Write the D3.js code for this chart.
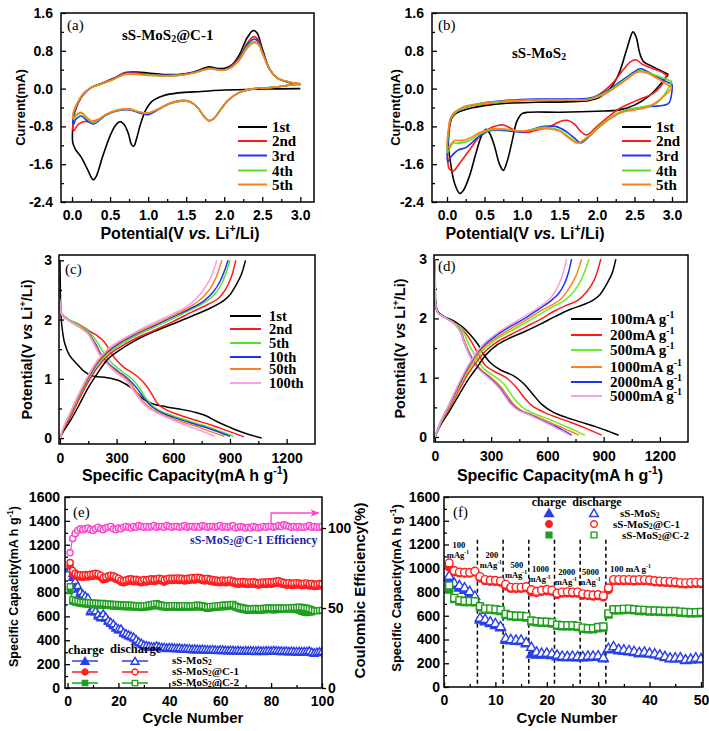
<!DOCTYPE html>
<html><head><meta charset="utf-8">
<script src="https://cdn.jsdelivr.net/npm/d3@7"></script>
<style>body{margin:0;background:#fff}text{white-space:pre}</style>
</head><body>
<svg id="c" width="709" height="731"></svg>
<script>
// ---------------- DATA ----------------
// (a) CV of sS-MoS2@C-1 : [potential V, current mA]
const cvA1=[[3.0,0.0],[2.5,-0.01],[2.0,-0.03],[1.7,-0.06],[1.4,-0.09],[1.2,-0.15],[1.05,-0.27],[0.97,-0.45],[0.9,-0.75],[0.85,-1.05],[0.81,-1.22],[0.78,-1.18],[0.74,-0.95],[0.68,-0.75],[0.63,-0.7],[0.57,-0.78],[0.5,-1.0],[0.4,-1.45],[0.32,-1.85],[0.28,-1.93],[0.2,-1.7],[0.12,-1.45],[0.05,-1.3],[0.01,-1.15],[0.01,-0.8],[0.03,-0.5],[0.08,-0.3],[0.15,-0.12],[0.25,0.02],[0.4,0.12],[0.55,0.22],[0.7,0.34],[0.85,0.35],[1.0,0.33],[1.2,0.3],[1.4,0.3],[1.6,0.35],[1.8,0.46],[1.9,0.43],[2.0,0.43],[2.1,0.5],[2.2,0.72],[2.3,1.07],[2.38,1.23],[2.43,1.18],[2.5,0.85],[2.6,0.4],[2.7,0.22],[2.85,0.13],[3.0,0.08]];
const cvA2=[[3.0,0.1],[2.8,0.06],[2.6,0.02],[2.4,0.0],[2.2,-0.08],[2.05,-0.25],[1.95,-0.45],[1.86,-0.64],[1.8,-0.68],[1.74,-0.6],[1.65,-0.4],[1.55,-0.28],[1.45,-0.25],[1.3,-0.3],[1.15,-0.42],[1.0,-0.53],[0.9,-0.51],[0.75,-0.44],[0.6,-0.46],[0.45,-0.55],[0.35,-0.65],[0.25,-0.7],[0.15,-0.7],[0.08,-0.76],[0.02,-0.9],[0.01,-0.85],[0.03,-0.55],[0.08,-0.3],[0.15,-0.12],[0.25,0.02],[0.4,0.12],[0.55,0.22],[0.7,0.33],[0.85,0.33],[1.0,0.3],[1.2,0.28],[1.4,0.29],[1.6,0.34],[1.8,0.44],[1.9,0.41],[2.0,0.4],[2.1,0.48],[2.2,0.66],[2.3,0.96],[2.39,1.1],[2.45,1.03],[2.5,0.8],[2.6,0.4],[2.7,0.22],[2.85,0.14],[3.0,0.1]];
const cvA3=[[3.0,0.1],[2.8,0.06],[2.6,0.02],[2.4,0.0],[2.2,-0.08],[2.05,-0.25],[1.95,-0.45],[1.86,-0.64],[1.8,-0.68],[1.74,-0.6],[1.65,-0.4],[1.55,-0.28],[1.45,-0.26],[1.3,-0.31],[1.15,-0.43],[1.0,-0.55],[0.9,-0.52],[0.75,-0.45],[0.6,-0.47],[0.45,-0.56],[0.35,-0.68],[0.28,-0.75],[0.2,-0.68],[0.12,-0.58],[0.05,-0.65],[0.02,-0.75],[0.01,-0.7],[0.03,-0.5],[0.08,-0.3],[0.15,-0.12],[0.25,0.02],[0.4,0.11],[0.55,0.21],[0.7,0.32],[0.85,0.32],[1.0,0.3],[1.2,0.28],[1.4,0.29],[1.6,0.34],[1.8,0.43],[1.9,0.41],[2.0,0.4],[2.1,0.47],[2.2,0.64],[2.3,0.92],[2.39,1.05],[2.45,0.99],[2.5,0.78],[2.6,0.4],[2.7,0.22],[2.85,0.14],[3.0,0.1]];
const cvA4=[[3.0,0.1],[2.8,0.06],[2.6,0.02],[2.4,0.0],[2.2,-0.08],[2.05,-0.25],[1.95,-0.45],[1.86,-0.64],[1.8,-0.68],[1.74,-0.6],[1.65,-0.4],[1.55,-0.28],[1.45,-0.26],[1.3,-0.31],[1.15,-0.42],[1.0,-0.52],[0.9,-0.5],[0.75,-0.44],[0.6,-0.46],[0.45,-0.55],[0.35,-0.66],[0.28,-0.72],[0.2,-0.64],[0.12,-0.52],[0.05,-0.58],[0.02,-0.65],[0.01,-0.62],[0.03,-0.45],[0.08,-0.28],[0.15,-0.11],[0.25,0.02],[0.4,0.11],[0.55,0.2],[0.7,0.31],[0.85,0.31],[1.0,0.29],[1.2,0.27],[1.4,0.28],[1.6,0.33],[1.8,0.42],[1.9,0.4],[2.0,0.39],[2.1,0.46],[2.2,0.62],[2.3,0.88],[2.39,1.0],[2.45,0.95],[2.5,0.76],[2.6,0.4],[2.7,0.22],[2.85,0.14],[3.0,0.1]];
const cvA5=[[3.0,0.1],[2.8,0.06],[2.6,0.02],[2.4,0.0],[2.2,-0.08],[2.05,-0.25],[1.95,-0.45],[1.86,-0.64],[1.8,-0.68],[1.74,-0.6],[1.65,-0.4],[1.55,-0.28],[1.45,-0.26],[1.3,-0.31],[1.15,-0.42],[1.0,-0.51],[0.9,-0.5],[0.75,-0.43],[0.6,-0.45],[0.45,-0.54],[0.35,-0.65],[0.28,-0.7],[0.2,-0.62],[0.12,-0.5],[0.05,-0.56],[0.02,-0.62],[0.01,-0.6],[0.03,-0.44],[0.08,-0.27],[0.15,-0.1],[0.25,0.02],[0.4,0.1],[0.55,0.2],[0.7,0.3],[0.85,0.3],[1.0,0.28],[1.2,0.27],[1.4,0.28],[1.6,0.33],[1.8,0.42],[1.9,0.4],[2.0,0.39],[2.1,0.45],[2.2,0.6],[2.3,0.85],[2.39,0.97],[2.45,0.93],[2.5,0.75],[2.6,0.4],[2.7,0.22],[2.85,0.14],[3.0,0.1]];
// (b) CV of sS-MoS2
const cvB1=[[2.95,0.3],[2.85,0.1],[2.7,-0.15],[2.5,-0.35],[2.3,-0.45],[2.0,-0.48],[1.5,-0.5],[1.1,-0.5],[1.0,-0.53],[0.93,-0.7],[0.87,-1.1],[0.8,-1.55],[0.75,-1.73],[0.7,-1.6],[0.63,-1.2],[0.57,-0.95],[0.52,-0.86],[0.46,-1.0],[0.38,-1.4],[0.3,-1.85],[0.22,-2.15],[0.17,-2.22],[0.1,-2.0],[0.05,-1.6],[0.02,-1.2],[0.03,-0.8],[0.08,-0.58],[0.15,-0.5],[0.3,-0.42],[0.5,-0.36],[0.8,-0.31],[1.2,-0.29],[1.6,-0.28],[1.9,-0.25],[2.05,-0.17],[2.2,0.05],[2.3,0.35],[2.4,0.85],[2.48,1.2],[2.52,1.1],[2.57,0.75],[2.62,0.57],[2.75,0.46],[2.9,0.34],[2.95,0.3]];
const cvB2=[[2.93,0.28],[2.85,0.05],[2.75,-0.1],[2.5,-0.27],[2.3,-0.42],[2.15,-0.6],[2.0,-0.8],[1.9,-0.95],[1.85,-0.98],[1.78,-0.9],[1.7,-0.75],[1.6,-0.67],[1.5,-0.7],[1.35,-0.82],[1.2,-0.88],[1.05,-0.93],[0.9,-0.88],[0.75,-0.77],[0.6,-0.82],[0.45,-0.98],[0.3,-1.3],[0.15,-1.62],[0.08,-1.75],[0.03,-1.7],[0.01,-1.5],[0.03,-0.9],[0.08,-0.55],[0.2,-0.42],[0.5,-0.33],[0.8,-0.27],[1.2,-0.24],[1.6,-0.24],[1.9,-0.22],[2.05,-0.1],[2.2,0.1],[2.35,0.4],[2.45,0.57],[2.52,0.61],[2.6,0.52],[2.7,0.45],[2.85,0.36],[2.93,0.28]];
const cvB3=[[3.0,0.1],[3.0,-0.05],[2.95,-0.32],[2.7,-0.38],[2.4,-0.45],[2.2,-0.6],[2.0,-0.85],[1.85,-1.08],[1.78,-1.15],[1.7,-1.05],[1.6,-0.92],[1.45,-0.8],[1.3,-0.8],[1.1,-0.88],[1.0,-0.92],[0.85,-0.9],[0.7,-0.88],[0.55,-0.9],[0.4,-1.05],[0.25,-1.25],[0.15,-1.3],[0.05,-1.45],[0.01,-1.55],[0.02,-1.0],[0.06,-0.6],[0.15,-0.45],[0.4,-0.33],[0.8,-0.25],[1.2,-0.22],[1.6,-0.22],[1.9,-0.2],[2.1,-0.08],[2.25,0.08],[2.4,0.25],[2.5,0.36],[2.58,0.42],[2.65,0.38],[2.8,0.25],[2.95,0.13],[3.0,0.1]];
const cvB4=[[3.0,0.15],[2.95,0.0],[2.8,-0.3],[2.5,-0.42],[2.3,-0.5],[2.1,-0.7],[1.9,-0.98],[1.75,-1.15],[1.65,-1.05],[1.5,-0.88],[1.3,-0.82],[1.1,-0.88],[1.0,-0.9],[0.8,-0.87],[0.6,-0.87],[0.45,-0.95],[0.3,-1.1],[0.15,-1.16],[0.08,-1.15],[0.01,-1.35],[0.02,-0.9],[0.06,-0.6],[0.2,-0.42],[0.5,-0.32],[0.8,-0.27],[1.2,-0.24],[1.6,-0.24],[1.9,-0.22],[2.1,-0.1],[2.25,0.05],[2.4,0.22],[2.5,0.33],[2.57,0.38],[2.65,0.35],[2.8,0.27],[3.0,0.15]];
const cvB5=[[3.0,0.02],[2.9,-0.15],[2.7,-0.38],[2.5,-0.45],[2.3,-0.52],[2.1,-0.72],[1.9,-1.0],[1.73,-1.15],[1.63,-1.05],[1.5,-0.9],[1.3,-0.85],[1.1,-0.88],[1.0,-0.9],[0.8,-0.86],[0.6,-0.85],[0.45,-0.92],[0.3,-1.05],[0.2,-1.1],[0.1,-1.1],[0.01,-1.25],[0.02,-0.85],[0.06,-0.58],[0.2,-0.4],[0.5,-0.3],[0.8,-0.26],[1.2,-0.24],[1.6,-0.24],[1.9,-0.23],[2.1,-0.12],[2.25,0.03],[2.4,0.2],[2.5,0.32],[2.58,0.36],[2.65,0.34],[2.8,0.22],[3.0,0.02]];
const cvLegend=["1st","2nd","3rd","4th","5th"];
// (c) charge/discharge of sS-MoS2@C-1 : [capacity mAh/g, potential V]
const dcC1=[[0,3.0],[2,2.6],[4,2.2],[10,1.9],[25,1.6],[50,1.4],[90,1.25],[130,1.12],[170,1.05],[250,1.02],[320,0.96],[390,0.82],[440,0.66],[490,0.58],[560,0.53],[650,0.48],[720,0.43],[770,0.38],[830,0.28],[900,0.18],[980,0.08],[1068,0.0]];
const dcC2=[[0,2.3],[3,2.15],[10,2.08],[40,2.0],[80,1.95],[120,1.88],[160,1.8],[200,1.72],[235,1.62],[265,1.47],[295,1.33],[340,1.19],[390,1.09],[430,0.98],[460,0.87],[490,0.72],[520,0.57],[560,0.48],[640,0.38],[720,0.3],[800,0.22],[880,0.13],[975,0.02]];
const dcC5=[[0,2.35],[3,2.2],[10,2.1],[50,2.0],[100,1.91],[150,1.8],[180,1.7],[210,1.55],[240,1.4],[280,1.25],[330,1.12],[380,1.0],[420,0.85],[460,0.65],[500,0.52],[560,0.42],[640,0.33],[720,0.25],[800,0.17],[917,0.03]];
const dcC10=[[0,2.3],[3,2.18],[10,2.08],[50,1.98],[100,1.88],[150,1.77],[190,1.58],[220,1.4],[260,1.25],[310,1.12],[360,1.0],[410,0.83],[450,0.65],[490,0.52],[550,0.41],[630,0.32],[720,0.23],[800,0.15],[900,0.03]];
const dcC50=[[0,2.3],[3,2.18],[10,2.08],[50,1.98],[100,1.88],[150,1.76],[185,1.58],[215,1.4],[255,1.25],[300,1.12],[350,1.0],[400,0.8],[440,0.62],[480,0.5],[540,0.4],[620,0.3],[700,0.22],[780,0.13],[870,0.03]];
const dcC100=[[0,2.3],[3,2.18],[10,2.08],[50,1.98],[100,1.88],[150,1.75],[180,1.58],[210,1.4],[250,1.25],[290,1.12],[340,1.0],[390,0.8],[430,0.62],[470,0.5],[530,0.4],[600,0.3],[680,0.2],[750,0.12],[820,0.03]];
const chC1=[[0,0.0],[20,0.12],[60,0.32],[100,0.55],[150,0.85],[200,1.1],[250,1.32],[300,1.45],[400,1.65],[500,1.8],[600,1.93],[700,2.06],[800,2.2],[870,2.33],[900,2.42],[930,2.57],[960,2.76],[982,3.0]];
const chC2=[[0,0.0],[20,0.15],[60,0.38],[100,0.65],[150,0.95],[200,1.2],[250,1.38],[300,1.5],[400,1.68],[500,1.82],[600,1.97],[700,2.13],[780,2.25],[840,2.36],[875,2.5],[905,2.7],[931,3.0]];
const chC5=[[0,0.0],[20,0.17],[60,0.42],[100,0.7],[150,1.0],[200,1.25],[250,1.42],[300,1.54],[400,1.72],[500,1.87],[600,2.02],[700,2.18],[770,2.3],[820,2.43],[860,2.63],[900,3.0]];
const chC10=[[0,0.0],[20,0.18],[60,0.45],[100,0.72],[150,1.02],[200,1.28],[250,1.45],[300,1.57],[400,1.75],[500,1.9],[600,2.05],[700,2.2],[760,2.31],[810,2.46],[850,2.66],[890,3.0]];
const chC50=[[0,0.0],[20,0.18],[60,0.46],[100,0.73],[150,1.04],[200,1.3],[250,1.47],[300,1.59],[400,1.77],[500,1.92],[600,2.07],[680,2.2],[740,2.33],[790,2.5],[825,2.7],[857,3.0]];
const chC100=[[0,0.0],[20,0.19],[60,0.47],[100,0.75],[150,1.06],[200,1.32],[250,1.49],[300,1.61],[400,1.79],[500,1.95],[600,2.1],[670,2.22],[720,2.35],[770,2.55],[800,2.72],[830,3.0]];
const cLegend=["1st","2nd","5th","10th","50th","100th"];
// (d) rate charge/discharge
const dcD100=[[0,3.0],[2,2.6],[4,2.3],[15,2.12],[50,2.03],[100,1.96],[150,1.85],[190,1.72],[230,1.56],[265,1.37],[300,1.24],[350,1.13],[420,1.03],[470,0.91],[520,0.73],[570,0.55],[630,0.42],[700,0.33],[780,0.25],[860,0.17],[930,0.09],[980,0.03]];
const dcD200=[[0,2.3],[4,2.2],[15,2.1],[50,2.02],[100,1.93],[150,1.8],[180,1.68],[210,1.52],[240,1.35],[270,1.2],[320,1.1],[380,1.0],[430,0.85],[480,0.65],[520,0.52],[580,0.42],[650,0.33],[730,0.24],[810,0.14],[889,0.03]];
const dcD500=[[0,2.3],[4,2.2],[15,2.1],[50,2.02],[100,1.93],[150,1.78],[175,1.6],[200,1.45],[230,1.3],[260,1.15],[310,1.04],[360,0.92],[400,0.75],[440,0.58],[480,0.47],[540,0.38],[610,0.3],[680,0.2],[740,0.12],[800,0.03]];
const dcD1000=[[0,2.3],[4,2.2],[15,2.1],[50,2.02],[100,1.93],[140,1.78],[160,1.6],[185,1.42],[215,1.25],[250,1.12],[300,1.0],[350,0.85],[390,0.68],[420,0.55],[460,0.45],[520,0.37],[590,0.28],[660,0.18],[720,0.1],[768,0.03]];
const dcD2000=[[0,2.3],[4,2.2],[15,2.1],[50,2.02],[100,1.92],[135,1.78],[155,1.6],[180,1.42],[210,1.25],[245,1.12],[290,1.0],[340,0.85],[380,0.68],[410,0.55],[450,0.45],[510,0.37],[570,0.28],[640,0.18],[690,0.1],[729,0.03]];
const dcD5000=[[0,3.0],[2,2.6],[4,2.25],[15,2.1],[50,2.02],[100,1.92],[135,1.78],[155,1.6],[178,1.42],[205,1.25],[240,1.12],[285,1.0],[335,0.85],[375,0.68],[405,0.55],[445,0.45],[505,0.37],[565,0.28],[630,0.18],[680,0.1],[720,0.03]];
const chD100=[[0,0.0],[30,0.2],[80,0.45],[130,0.72],[180,0.98],[230,1.2],[270,1.38],[330,1.55],[400,1.67],[480,1.78],[560,1.9],[640,2.03],[720,2.15],[790,2.23],[840,2.3],[880,2.4],[920,2.6],[945,2.76],[965,3.0]];
const chD200=[[0,0.0],[30,0.22],[80,0.5],[130,0.8],[180,1.08],[230,1.3],[270,1.45],[330,1.6],[400,1.72],[480,1.85],[560,1.98],[640,2.13],[700,2.22],[760,2.3],[810,2.45],[850,2.65],[885,3.0]];
const chD500=[[0,0.0],[30,0.23],[80,0.53],[130,0.84],[180,1.13],[230,1.36],[270,1.5],[330,1.65],[400,1.78],[480,1.92],[560,2.07],[630,2.2],[690,2.3],[740,2.45],[780,2.65],[822,3.0]];
const chD1000=[[0,0.0],[30,0.24],[80,0.55],[130,0.86],[180,1.16],[230,1.4],[270,1.54],[330,1.68],[400,1.82],[480,1.96],[560,2.12],[620,2.22],[670,2.32],[710,2.48],[750,2.7],[782,3.0]];
const chD2000=[[0,0.0],[30,0.25],[80,0.57],[130,0.9],[180,1.2],[230,1.44],[270,1.57],[330,1.72],[400,1.86],[480,2.0],[560,2.17],[620,2.3],[660,2.42],[690,2.58],[710,2.75],[729,3.0]];
const chD5000=[[0,0.0],[30,0.25],[80,0.58],[130,0.92],[180,1.22],[230,1.46],[270,1.6],[330,1.75],[400,1.89],[480,2.04],[560,2.2],[610,2.32],[640,2.45],[665,2.6],[685,2.78],[702,3.0]];
const dLegend=["100","200","500","1000","2000","5000"];
// (e) cycling at 100 mA/g, cycles 1..100
const eMoS2Dis=[1000,960,900,860,810,790,775,760,650,665,650,620,600,625,600,570,555,540,515,500,500,470,460,450,440,430,410,390,380,365,360,355,350,350,358,350,345,345,340,345,342,340,338,340,335,336,335,333,330,332,330,328,330,327,326,325,327,324,322,325,323,322,320,322,320,318,320,318,316,318,317,318,316,315,318,316,315,317,318,316,320,318,316,315,314,316,312,314,312,310,312,310,311,312,315,305,300,305,308,310];
const eMoS2Ch=[1010,930,870,830,790,775,760,740,640,650,640,605,590,610,585,560,545,525,505,490,490,460,450,440,430,420,400,380,370,355,350,345,342,342,348,342,338,338,333,337,335,333,330,333,328,329,328,326,323,325,323,321,323,320,319,318,320,317,315,318,316,315,313,315,313,311,313,311,309,311,310,311,309,308,311,309,308,310,311,309,313,311,309,308,307,309,305,307,305,303,305,303,304,305,308,298,293,298,301,303];
const eC1Dis=[1050,985,960,950,948,945,950,948,952,955,960,955,945,925,930,940,945,940,930,920,905,900,905,912,915,908,910,905,900,908,905,910,915,910,915,920,915,905,915,920,918,920,922,918,920,915,918,920,925,922,928,925,918,915,920,912,908,905,902,900,905,900,903,905,898,892,888,890,892,888,885,888,890,885,880,885,888,885,890,888,892,895,898,890,885,880,882,878,880,882,880,875,878,880,872,875,868,870,875,872];
const eC1Ch=[1020,960,940,932,930,928,932,930,934,937,942,937,927,907,912,922,927,922,912,902,887,882,887,894,897,890,892,887,882,890,887,892,897,892,897,902,897,887,897,902,900,902,904,900,902,897,900,902,907,904,910,907,900,897,902,894,890,887,884,882,887,882,885,887,880,874,870,872,874,870,867,870,872,867,862,867,870,867,872,870,874,877,880,872,867,862,864,860,862,864,862,857,860,862,854,857,850,852,857,854];
const eC2Dis=[850,740,732,728,722,720,718,716,715,712,712,710,708,710,706,705,704,700,702,700,698,696,695,694,695,692,690,688,686,690,692,695,700,705,708,700,695,692,690,688,690,692,690,688,690,692,690,688,690,692,695,693,690,686,680,684,686,688,690,692,695,696,698,700,702,690,682,676,672,668,664,665,666,668,664,665,668,670,672,670,668,670,672,670,668,670,672,675,676,675,678,676,672,670,665,655,648,645,650,652];
const eC2Ch=[815,725,717,713,707,705,703,701,700,697,697,695,693,695,691,690,689,685,687,685,683,681,680,679,680,677,675,673,671,675,677,680,685,690,693,685,680,677,675,673,675,677,675,673,675,677,675,673,675,677,680,678,675,671,665,669,671,673,675,677,680,681,683,685,687,675,667,661,657,653,649,650,651,653,649,650,653,655,657,655,653,655,657,660,661,660,663,661,657,655,650,640,633,630,635,637];
const eEff=[84.5,93.5,96.5,98.5,99.5,99,99.5,100,99,98.5,99.5,100.5,99.5,99,100,100.5,101,99.5,99,100,99.5,100.5,101,100.5,100,101,100.5,101.5,101,100.5,101,100.5,101,101.5,100.5,101,101,100.5,101.5,101,100.5,101,101,100.5,101,101.5,100.5,101,101,100.5,101,100.5,101.5,101,100.5,101,101,100.5,101,101.5,100.5,101,100.5,101,101.5,100,100.5,101,100.5,100,100.5,100,101,100.5,100,100.5,101,100.5,101,101,100.5,101,101.5,101,102,101.5,101,100.5,101,100.5,101,100.5,100.5,101,101.5,100.5,101,100.5,100.5,101];
// (f) rate capability, cycles 1..50
const fMoS2Dis=[940,880,860,840,810,770,585,575,555,540,515,415,405,400,400,380,340,300,290,292,285,275,265,262,265,262,262,266,266,268,252,330,345,322,318,312,305,295,300,292,285,275,262,250,250,252,235,240,250,242];
const fMoS2Ch=[925,860,840,820,790,745,570,555,540,525,505,400,395,392,390,370,280,275,275,278,272,260,255,255,255,252,252,255,256,258,245,320,330,312,308,302,296,287,290,284,277,268,255,243,243,245,230,233,243,236];
const fC1Dis=[1045,980,968,965,965,975,930,905,900,898,892,865,840,840,840,845,820,805,815,822,815,790,800,802,800,800,785,780,775,778,768,835,905,905,905,905,902,905,905,902,895,892,890,888,885,880,878,880,882,880];
const fC1Ch=[1010,970,960,958,958,968,918,895,890,888,882,850,830,830,830,835,800,795,805,810,805,778,790,792,790,790,772,770,765,768,758,820,895,895,895,895,892,895,895,892,885,882,880,878,875,870,868,870,872,870];
const fC2Dis=[855,750,730,725,725,722,680,660,660,655,650,615,605,600,600,595,560,555,550,550,545,525,520,520,520,515,500,495,495,505,510,620,655,655,658,660,655,650,650,645,645,642,640,640,640,635,632,630,630,632];
const fC2Ch=[820,740,720,715,715,712,670,650,650,645,640,605,595,590,590,585,550,545,540,540,535,515,510,510,510,505,490,485,485,495,500,610,645,645,648,650,645,640,640,635,635,632,630,630,630,625,622,620,620,622];
const fBreaks=[6.5,11.5,16.5,21.5,26.5,31.5];
const fRates=["100","200","500","1000","2000","5000"];
const seriesNames=["sS-MoS_{2}","sS-MoS_{2}@C-1","sS-MoS_{2}@C-2"];

// ---------------- DRAWING ----------------
const SANS="'Liberation Sans', Arial, sans-serif";
const SERIF="'Liberation Serif', 'Times New Roman', serif";
const svg=d3.select('#c');
svg.append('rect').attr('width',709).attr('height',731).attr('fill','#fff');

function rich(parent,str,fs){
  const t=parent.append('text').attr('font-size',fs);
  const re=/([_^*])\{([^}]*)\}/g;let last=0,cur=0,m;
  const add=(s,type)=>{ if(!s)return;
    const target=type==='sub'?fs*0.12:type==='sup'?-fs*0.42:0;
    const ts=t.append('tspan').text(s).attr('dy',(target-cur).toFixed(2));cur=target;
    if(type==='sub'||type==='sup')ts.attr('font-size',fs*0.66);
    if(type==='it')ts.attr('font-style','italic');};
  while((m=re.exec(str))){add(str.slice(last,m.index),'n');add(m[2],m[1]==='_'?'sub':m[1]==='^'?'sup':'it');last=re.lastIndex;}
  add(str.slice(last),'n');return t;
}

function panel(o){
  const g=svg.append('g');
  const x=d3.scaleLinear().domain(o.xd).range([o.l,o.r]);
  const y=d3.scaleLinear().domain(o.yd).range([o.b,o.t]);
  const cid='clip'+o.name;
  svg.append('clipPath').attr('id',cid).append('rect').attr('x',o.l).attr('y',o.t).attr('width',o.r-o.l).attr('height',o.b-o.t);
  const style=s=>{s.select('.domain').remove();s.attr('font-family',SANS).attr('font-size',14).attr('font-weight','bold');s.selectAll('line').attr('stroke','#000').attr('stroke-width',1.3);};
  g.append('g').attr('transform',`translate(0,${o.b})`).call(d3.axisBottom(x).tickValues(o.xminor).tickSizeInner(-3).tickSizeOuter(0).tickFormat('')).call(style);
  g.append('g').attr('transform',`translate(${o.l},0)`).call(d3.axisLeft(y).tickValues(o.yminor).tickSizeInner(-3).tickSizeOuter(0).tickFormat('')).call(style);
  g.append('g').attr('transform',`translate(0,${o.b})`).call(d3.axisBottom(x).tickValues(o.xt).tickSizeInner(-5).tickSizeOuter(0).tickPadding(o.xpad).tickFormat(o.xf)).call(style);
  g.append('g').attr('transform',`translate(${o.l},0)`).call(d3.axisLeft(y).tickValues(o.yt).tickSizeInner(-5).tickSizeOuter(0).tickPadding(o.ypad).tickFormat(o.yf)).call(style);
  const plot=svg.append('g').attr('clip-path',`url(#${cid})`);
  const front=svg.append('g');
  front.append('rect').attr('x',o.l).attr('y',o.t).attr('width',o.r-o.l).attr('height',o.b-o.t).attr('fill','none').attr('stroke','#000').attr('stroke-width',1.5);
  return {g:front,x,y,plot};
}
const f1=d=>d.toFixed(1), f0=d=>String(d);
const curve=d3.curveCatmullRom.alpha(0.5);

// ----- (a) and (b)
const cvCols=['#000000','#ff1a1a','#1c35f0','#5be02a','#ff7f1a'];
function cvPanel(o,data,title,tx,ty,lab,labx,legx){
  const P=panel(Object.assign({xd:o.xd,yd:[-2.4,1.6],xt:[0,0.5,1,1.5,2,2.5,3],xminor:[0.25,0.75,1.25,1.75,2.25,2.75],yt:[-2.4,-1.6,-0.8,0,0.8,1.6],yminor:[-2.0,-1.2,-0.4,0.4,1.2],xf:f1,yf:f1,xpad:8,ypad:8},o));
  const line=d3.line().x(d=>P.x(d[0])).y(d=>P.y(d[1])).curve(curve);
  data.forEach((d,i)=>P.plot.append('path').attr('d',line(d)).attr('fill','none').attr('stroke',cvCols[i]).attr('stroke-width',1.6));
  const ly=[127,141,155.5,170.5,184.5];
  cvLegend.forEach((s,i)=>{
    P.g.append('line').attr('x1',legx).attr('x2',legx+29).attr('y1',ly[i]).attr('y2',ly[i]).attr('stroke',cvCols[i]).attr('stroke-width',2);
    P.g.append('text').attr('x',legx+34).attr('y',ly[i]+5).attr('font-family',SERIF).attr('font-weight','bold').attr('font-size',15).text(s);
  });
  rich(P.g,title,15).attr('x',tx).attr('y',ty).attr('font-family',SERIF).attr('font-weight','bold');
  P.g.append('text').attr('x',labx).attr('y',30).attr('font-family',SERIF).attr('font-size',15).text(lab);
  rich(P.g,'Potential(V *{vs.} Li^{+}/Li)',16).attr('x',o.xtx).attr('y',239).attr('text-anchor','middle').attr('font-family',SANS).attr('font-weight','bold');
  rich(P.g,'Current(mA)',13).attr('transform',`translate(${o.ytx},${(o.t+o.b)/2}) rotate(-90)`).attr('text-anchor','middle').attr('font-family',SANS).attr('font-weight','bold');
}
cvPanel({name:'a',l:61,r:314,t:13,b:202,xd:[-0.145,3.18],ytx:25,xtx:180},[cvA1,cvA2,cvA3,cvA4,cvA5],'sS-MoS_{2}@C-1',122,40,'(a)',67,238);
cvPanel({name:'b',l:432,r:687,t:13,b:202,xd:[-0.2,3.2],ytx:400,xtx:525},[cvB1,cvB2,cvB3,cvB4,cvB5],'sS-MoS_{2}',512,58,'(b)',438,622);

// ----- (c) and (d)
function gcdPanel(o,dis,ch,cols,labels,legx,legy,lfs,lab,labx,laby){
  const P=panel(Object.assign({xd:[-5,1350],xt:[0,300,600,900,1200],xminor:[150,450,750,1050],yt:[0,1,2,3],yminor:[0.5,1.5,2.5],xf:f0,yf:f0,xpad:9,ypad:7},o));
  const line=d3.line().x(d=>P.x(d[0])).y(d=>P.y(d[1])).curve(curve);
  dis.forEach((d,i)=>P.plot.append('path').attr('d',line(d)).attr('fill','none').attr('stroke',cols[i]).attr('stroke-width',1.5));
  ch.forEach((d,i)=>P.plot.append('path').attr('d',line(d)).attr('fill','none').attr('stroke',cols[i]).attr('stroke-width',1.5));
  labels.forEach((s,i)=>{
    P.g.append('line').attr('x1',legx).attr('x2',legx+31).attr('y1',legy[i]).attr('y2',legy[i]).attr('stroke',cols[i]).attr('stroke-width',2);
    rich(P.g,s,lfs).attr('x',legx+39).attr('y',legy[i]+5).attr('font-family',SERIF).attr('font-weight','bold');
  });
  P.g.append('text').attr('x',labx).attr('y',laby).attr('font-family',SERIF).attr('font-size',15).text(lab);
  rich(P.g,'Specific Capacity(mA h g^{-1})',16).attr('x',o.xtx).attr('y',481).attr('text-anchor','middle').attr('font-family',SANS).attr('font-weight','bold');
  rich(P.g,'Potential(V *{vs} Li^{+}/Li)',14.5).attr('transform',`translate(${o.ytx},${(o.t+o.b)/2}) rotate(-90)`).attr('text-anchor','middle').attr('font-family',SANS).attr('font-weight','bold');
}
gcdPanel({name:'c',l:59,r:315,t:255,b:444,yd:[-0.1,3.09],ytx:32,xtx:185},[dcC1,dcC2,dcC5,dcC10,dcC50,dcC100],[chC1,chC2,chC5,chC10,chC50,chC100],
  ['#000000','#ff1a1a','#5be02a','#1c35f0','#ff8020','#f4a0e6'],cLegend,230,[316,329,343,357,369,383],14.5,'(c)',65,274);
gcdPanel({name:'d',l:434,r:688,t:255,b:442,yd:[-0.085,3.07],ytx:405,xtx:560},[dcD100,dcD200,dcD500,dcD1000,dcD2000,dcD5000],[chD100,chD200,chD500,chD1000,chD2000,chD5000],
  ['#000000','#ff1a1a','#66ee22','#ff8020','#1c35f0','#f4a0e6'],dLegend.map(r=>r+'mA g^{-1}'),571,[319,335,350,367,382,396],15,'(d)',438,271);

// ----- markers
const sym={tri:d3.symbolTriangle,circ:d3.symbolCircle,sq:d3.symbolSquare};
function marker(g,type,cx,cy,col,filled,size){
  g.append('path').attr('d',d3.symbol(sym[type],size)()).attr('transform',`translate(${cx},${cy+(type==='tri'?1:0)})`)
   .attr('fill',filled?col:'#fff').attr('stroke',col).attr('stroke-width',1.4);
}
const eCols=['#2a40e6','#ff1f1f','#1f9e1f'];
const eTypes=['tri','circ','sq'];

// ----- (e)
(function(){
  const o={name:'e',l:65,r:322,t:497,b:688,xd:[-1,100],yd:[0,1600],xt:[0,20,40,60,80,100],xminor:[10,30,50,70,90],yt:d3.range(0,1601,200),yminor:d3.range(100,1600,200),xf:f0,yf:f0,xpad:8,ypad:5};
  const P=panel(o);
  const yR=d3.scaleLinear().domain([0,119.4]).range([o.b,o.t]);
  const ra=P.g.append('g').attr('transform',`translate(${o.r},0)`).call(d3.axisRight(yR).tickValues([0,50,100]).tickSizeInner(4).tickSizeOuter(0).tickPadding(2).tickFormat(f0));
  ra.select('.domain').remove();ra.attr('font-family',SANS).attr('font-size',14).attr('font-weight','bold');ra.selectAll('line').attr('stroke','#000').attr('stroke-width',1.3);
  const cyc=eMoS2Dis.map((_,i)=>i+1);
  const sets=[[eMoS2Ch,eMoS2Dis],[eC2Ch,eC2Dis],[eC1Ch,eC1Dis]];
  const idx=[0,2,1];
  sets.forEach((pair,k)=>{
    const i=idx[k];
    pair.forEach((arr,j)=>{
      const ln=d3.line().x((d,n)=>P.x(cyc[n])).y(d=>P.y(d));
      P.plot.append('path').attr('d',ln(arr)).attr('fill','none').attr('stroke',eCols[i]).attr('stroke-width',1.2);
      arr.forEach((v,n)=>marker(P.plot,eTypes[i],P.x(cyc[n]),P.y(v),eCols[i],j===0,i===0?26:30));
    });
  });
  const effLine=d3.line().x((d,n)=>P.x(cyc[n])).y(d=>yR(d));
  P.plot.append('path').attr('d',effLine(eEff)).attr('fill','none').attr('stroke','#ff44cc').attr('stroke-width',1.2);
  eEff.forEach((v,n)=>marker(P.plot,'circ',P.x(cyc[n]),yR(v),'#ff44cc',false,30));
  // arrow
  const defs=svg.append('defs');
  defs.append('marker').attr('id','arw').attr('viewBox','0 0 10 10').attr('refX',9).attr('refY',5).attr('markerWidth',7).attr('markerHeight',7).attr('orient','auto')
    .append('path').attr('d','M0,1 L10,5 L0,9 L3,5 Z').attr('fill','#ff44cc');
  const arrowPts=[[80,103],[80,109.4],[98.6,109.4]];
  P.g.append('path').attr('d',d3.line().x(d=>P.x(d[0])).y(d=>yR(d[1]))(arrowPts)).attr('fill','none').attr('stroke','#ff44cc').attr('stroke-width',1.3).attr('marker-end','url(#arw)');
  rich(P.g,'sS-MoS_{2}@C-1 Efficiency',12).attr('x',190).attr('y',544).attr('font-family',SERIF).attr('font-weight','bold').attr('fill','#2222a8');
  // legend
  P.g.append('text').attr('x',68).attr('y',654).attr('font-family',SERIF).attr('font-weight','bold').attr('font-size',12.5).text('charge');
  P.g.append('text').attr('x',110).attr('y',653).attr('font-family',SERIF).attr('font-weight','bold').attr('font-size',12.5).text('discharge');
  const rows=[661,672,683];
  [0,1,2].forEach(i=>{
    P.g.append('line').attr('x1',72).attr('x2',98).attr('y1',rows[i]).attr('y2',rows[i]).attr('stroke',eCols[i]).attr('stroke-width',1.5);
    marker(P.g,eTypes[i],85,rows[i],eCols[i],true,28);
    P.g.append('line').attr('x1',122).attr('x2',148).attr('y1',rows[i]).attr('y2',rows[i]).attr('stroke',eCols[i]).attr('stroke-width',1.5);
    marker(P.g,eTypes[i],135,rows[i],eCols[i],false,28);
    rich(P.g,seriesNames[i],11).attr('x',172).attr('y',rows[i]+3).attr('font-family',SERIF).attr('font-weight','bold');
  });
  P.g.append('text').attr('x',73).attr('y',517).attr('font-family',SERIF).attr('font-size',15).text('(e)');
  rich(P.g,'Cycle Number',15).attr('x',193).attr('y',723).attr('text-anchor','middle').attr('font-family',SANS).attr('font-weight','bold');
  rich(P.g,'Specific Capacity(mA h g^{-1})',12.5).attr('transform',`translate(18,${(o.t+o.b)/2-6}) rotate(-90)`).attr('text-anchor','middle').attr('font-family',SANS).attr('font-weight','bold');
  rich(P.g,'Coulombic Efficiency(%)',15).attr('transform',`translate(365,${(o.t+o.b)/2-2}) rotate(-90)`).attr('text-anchor','middle').attr('font-family',SANS).attr('font-weight','bold');
})();

// ----- (f)
(function(){
  const o={name:'f',l:444,r:703,t:497,b:687,xd:[0,50.4],yd:[0,1600],xt:[0,10,20,30,40,50],xminor:[5,15,25,35,45],yt:d3.range(0,1601,200),yminor:d3.range(100,1600,200),xf:f0,yf:f0,xpad:8,ypad:4};
  const P=panel(o);
  fBreaks.forEach(b=>P.plot.append('line').attr('x1',P.x(b)).attr('x2',P.x(b)).attr('y1',P.y(1240)).attr('y2',P.y(0)).attr('stroke','#000').attr('stroke-width',1.5).attr('stroke-dasharray','4,3'));
  const cyc=fMoS2Dis.map((_,i)=>i+1);
  const sets=[[fMoS2Ch,fMoS2Dis,0],[fC2Ch,fC2Dis,2],[fC1Ch,fC1Dis,1]];
  sets.forEach(([ch,dis,i])=>{
    ch.forEach((v,n)=>marker(P.plot,eTypes[i],P.x(cyc[n]),P.y(v),eCols[i],true,i===0?40:48));
    dis.forEach((v,n)=>marker(P.plot,eTypes[i],P.x(cyc[n]),P.y(v),eCols[i],false,i===0?40:48));
  });
  // rate labels
  const rlx=[2.9,9.3,14.2,18.8,23.9,28.5], rly=[1196,1112,1027,993,971,971];
  fRates.forEach((r,i)=>{
    P.g.append('text').attr('x',P.x(rlx[i])).attr('y',P.y(rly[i])+3).attr('text-anchor','middle').attr('font-family',SERIF).attr('font-weight','bold').attr('font-size',8.5).text(r);
    rich(P.g,'mAg^{-1}',8.5).attr('x',P.x(rlx[i])-1).attr('y',P.y(rly[i])+13).attr('text-anchor','middle').attr('font-family',SERIF).attr('font-weight','bold');
  });
  rich(P.g,'100 mA g^{-1}',9).attr('x',P.x(32.3)).attr('y',P.y(993)+3).attr('font-family',SERIF).attr('font-weight','bold');
  // legend
  P.g.append('text').attr('x',549).attr('y',506).attr('text-anchor','middle').attr('font-family',SERIF).attr('font-weight','bold').attr('font-size',12).text('charge');
  P.g.append('text').attr('x',597).attr('y',506).attr('text-anchor','middle').attr('font-family',SERIF).attr('font-weight','bold').attr('font-size',12).text('discharge');
  const rows=[513,524,535], lx=[620,613,622];
  [0,1,2].forEach(i=>{
    marker(P.g,eTypes[i],549,rows[i],eCols[i],true,34);
    marker(P.g,eTypes[i],594,rows[i],eCols[i],false,34);
    rich(P.g,seriesNames[i],11).attr('x',lx[i]).attr('y',rows[i]+3.5).attr('font-family',SERIF).attr('font-weight','bold');
  });
  P.g.append('text').attr('x',453).attr('y',517).attr('font-family',SERIF).attr('font-size',15).text('(f)');
  rich(P.g,'Cycle Number',15).attr('x',567).attr('y',723).attr('text-anchor','middle').attr('font-family',SANS).attr('font-weight','bold');
  rich(P.g,'Specific Capacity(mA h g^{-1})',13).attr('transform',`translate(401,${(o.t+o.b)/2-4}) rotate(-90)`).attr('text-anchor','middle').attr('font-family',SANS).attr('font-weight','bold');
})();
</script></body></html>
